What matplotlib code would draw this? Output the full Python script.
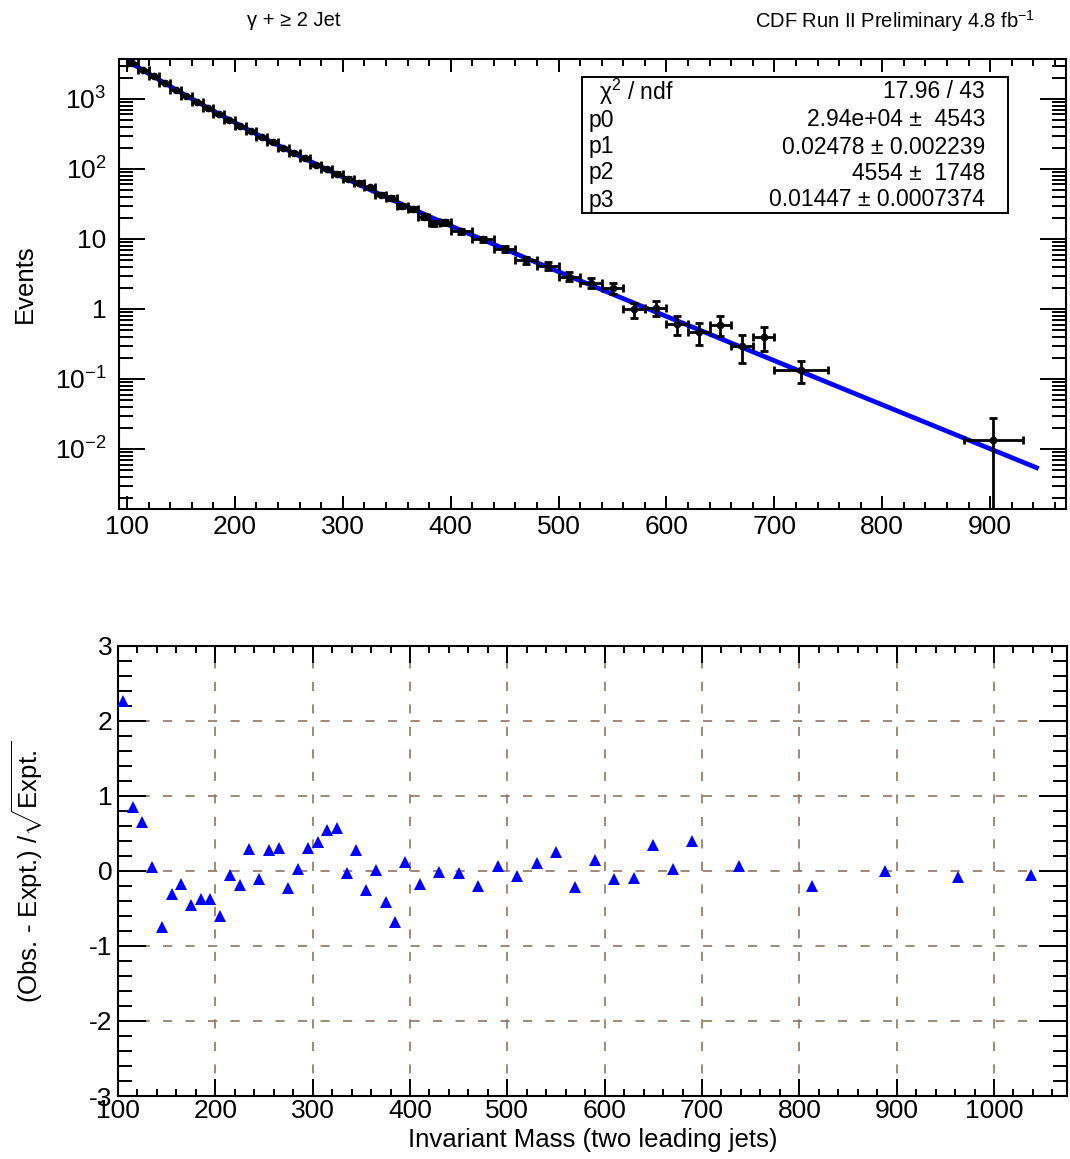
import numpy as np
import matplotlib
matplotlib.use("Agg")
import matplotlib.pyplot as plt
from matplotlib.ticker import FixedLocator, MultipleLocator, NullFormatter
from matplotlib.patches import Rectangle

plt.rcParams['font.family'] = ['Liberation Sans', 'DejaVu Sans']
plt.rcParams['mathtext.fontset'] = 'custom'
plt.rcParams['mathtext.rm'] = 'Liberation Sans'
plt.rcParams['mathtext.it'] = 'Liberation Sans:italic'
plt.rcParams['mathtext.bf'] = 'Liberation Sans:bold'
plt.rcParams['axes.unicode_minus'] = False

# ---- fit result: p0*exp(-p1*m) + p2*exp(-p3*m) ----
p0, p1, p2, p3 = 2.94e4, 0.02478, 4554.0, 0.01447
fit_range = (100.0, 945.0)
stat_labels = ["p0", "p1", "p2", "p3"]
stat_values = ["2.94e+04 \u00b1  4543", "0.02478 \u00b1 0.002239",
               "4554 \u00b1  1748", "0.01447 \u00b1 0.0007374"]
chi2_text = "17.96 / 43"

# ---- dijet invariant mass spectrum ----
mass = [105, 115, 125, 135, 145, 155, 165, 175, 185, 195,
        205, 215, 225, 235, 245, 255, 265, 275, 285, 295,
        305, 315, 325, 335, 345, 355, 365, 375, 385, 395,
        410, 430, 450, 470, 490, 510, 530, 550, 570, 590,
        610, 630, 650, 670, 690, 725, 903]
mass_err = [5] * 30 + [10] * 15 + [25, 27]
events = [3290, 2610, 2100, 1685, 1340, 1105, 905, 735, 605, 497,
          406, 345, 284, 243, 198, 170, 143, 115, 99, 86,
          73, 64, 55, 43, 38.5, 29.8, 26.8, 20.8, 16.8, 17.5,
          12.8, 9.9, 7.2, 5.0, 4.15, 2.9, 2.37, 1.97, 0.99, 1.04,
          0.61, 0.47, 0.60, 0.30, 0.40, 0.134, 0.0134]
events_err = [20, 18, 16, 14, 13, 12, 10.5, 9.5, 8.6, 7.8,
              7.1, 6.5, 5.9, 5.5, 4.9, 4.6, 4.2, 3.8, 3.5, 3.2,
              3.0, 2.8, 2.6, 2.3, 2.2, 1.9, 1.8, 1.6, 1.45, 1.45,
              0.9, 0.78, 0.67, 0.56, 0.51, 0.42, 0.38, 0.35, 0.24, 0.24,
              0.19, 0.16, 0.19, 0.13, 0.15, 0.047, 0.014]

# ---- residuals (Obs - Expt)/sqrt(Expt) ----
res_mass = [105, 115, 125, 135, 145, 155, 165, 175, 185, 195,
            205, 215, 225, 235, 245, 255, 265, 275, 285, 295,
            305, 315, 325, 335, 345, 355, 365, 375, 385, 395,
            410, 430, 450, 470, 490, 510, 530, 550, 570, 590,
            610, 630, 650, 670, 690, 737.5, 812.5, 887.5, 962.5, 1037.5]
residual = [2.26, 0.85, 0.65, 0.05, -0.75, -0.31, -0.18, -0.45, -0.37, -0.37,
            -0.60, -0.06, -0.19, 0.29, -0.11, 0.28, 0.30, -0.23, 0.02, 0.31,
            0.39, 0.54, 0.57, -0.03, 0.28, -0.26, 0.01, -0.42, -0.68, 0.12,
            -0.18, -0.02, -0.03, -0.20, 0.07, -0.07, 0.10, 0.25, -0.21, 0.14,
            -0.11, -0.09, 0.35, 0.02, 0.40, 0.07, -0.20, 0.00, -0.08, -0.05]

top_xticks = [100, 200, 300, 400, 500, 600, 700, 800, 900]
top_yticks = [1e-2, 1e-1, 1, 10, 1e2, 1e3]
top_ytick_labels = [r'$10^{-2}$', r'$10^{-1}$', '1', '10', r'$10^{2}$', r'$10^{3}$']
bot_xticks = [100, 200, 300, 400, 500, 600, 700, 800, 900, 1000]
bot_yticks = [-3, -2, -1, 0, 1, 2, 3]

W, H = 1070, 1159
fig = plt.figure(figsize=(W / 100, H / 100), dpi=100)


def fx(px):
    return px / W


def fy(py):
    return 1 - py / H


TICK_FS = 19
LABEL_FS = 18.5
FRAME_LW = 1.5

# ================= upper pad: spectrum + fit =================
ax1 = fig.add_axes([fx(119), fy(509.3), fx(1066) - fx(119), fy(59) - fy(509.3)])
ax1.set_yscale('log')
ax1.set_xlim(92.6, 970.3)
ax1.set_ylim(0.001376, 3722)

mfit = np.linspace(fit_range[0], fit_range[1], 600)
ax1.plot(mfit, p0 * np.exp(-p1 * mfit) + p2 * np.exp(-p3 * mfit),
         color='#0000ff', lw=3.4, zorder=2, solid_capstyle='butt')
ax1.errorbar(mass, events, xerr=mass_err, yerr=events_err, fmt='o', ms=4.5,
             color='black', ecolor='black', elinewidth=2.0, capsize=2.8,
             capthick=2.0, zorder=3)

ax1.xaxis.set_major_locator(FixedLocator(top_xticks))
ax1.xaxis.set_minor_locator(MultipleLocator(20))
ax1.yaxis.set_major_locator(FixedLocator(top_yticks))
ax1.set_yticklabels(top_ytick_labels)
minor_y = [k * 10.0 ** e for e in range(-3, 4) for k in range(2, 10)]
ax1.yaxis.set_minor_locator(FixedLocator(minor_y))
ax1.yaxis.set_minor_formatter(NullFormatter())

ax1.tick_params(axis='both', which='both', direction='in', top=True, right=True,
                width=1.4, colors='black', labelsize=TICK_FS)
ax1.tick_params(axis='x', which='major', length=9.5, pad=4)
ax1.tick_params(axis='x', which='minor', length=5)
ax1.tick_params(axis='y', which='major', length=19, pad=9)
ax1.tick_params(axis='y', which='minor', length=10)
for s in ax1.spines.values():
    s.set_linewidth(FRAME_LW)

# fit statistics box
box = Rectangle((fx(582), fy(213)), fx(1008) - fx(582), fy(77) - fy(213),
                transform=fig.transFigure, fill=True, facecolor='white',
                edgecolor='black', lw=1.4, zorder=5)
fig.add_artist(box)
STAT_FS = 16.5
rows_y = [92, 120, 147, 173, 200]
fig.text(fx(599), fy(rows_y[0]), '\u03c7$^{2}$ / ndf', fontsize=STAT_FS,
         ha='left', va='center', zorder=6)
fig.text(fx(985), fy(rows_y[0]), chi2_text, fontsize=STAT_FS,
         ha='right', va='center', zorder=6)
for yy, lab, val in zip(rows_y[1:], stat_labels, stat_values):
    fig.text(fx(589), fy(yy), lab, fontsize=STAT_FS, ha='left', va='center', zorder=6)
    fig.text(fx(985), fy(yy), val, fontsize=STAT_FS, ha='right', va='center', zorder=6)

fig.text(fx(25), fy(284), 'Events', fontsize=LABEL_FS, rotation=90,
         ha='center', va='center')

# headers
fig.text(fx(294), fy(21), '\u03b3 + \u2265 2 Jet', fontsize=14.5, ha='center', va='center')
fig.text(fx(1035), fy(21), 'CDF Run II Preliminary 4.8 fb$^{-1}$', fontsize=14.5,
         ha='right', va='center')

# ================= lower pad: residuals =================
ax2 = fig.add_axes([fx(118), fy(1096), fx(1067) - fx(118), fy(645.7) - fy(1096)])
ax2.set_xlim(100, 1075)
ax2.set_ylim(-3, 3)
ax2.plot(res_mass, residual, linestyle='none', marker='^', ms=9.2,
         color='#0000ff', markeredgewidth=0, zorder=3)

ax2.xaxis.set_major_locator(FixedLocator(bot_xticks))
ax2.xaxis.set_minor_locator(MultipleLocator(20))
ax2.yaxis.set_major_locator(FixedLocator(bot_yticks))
ax2.yaxis.set_minor_locator(MultipleLocator(0.2))
ax2.grid(True, which='major', linestyle=(0, (5.5, 8)), color='#8c7566', lw=1.2)
ax2.set_axisbelow(True)

ax2.tick_params(axis='both', which='both', direction='in', top=True, right=True,
                width=1.4, colors='black', labelsize=TICK_FS)
ax2.tick_params(axis='x', which='major', length=12, pad=2)
ax2.tick_params(axis='x', which='minor', length=5)
ax2.tick_params(axis='y', which='major', length=20, pad=4)
ax2.tick_params(axis='y', which='minor', length=10)
for s in ax2.spines.values():
    s.set_linewidth(FRAME_LW)

fig.text(fx(27), fy(872), r'(Obs. - Expt.) /$\sqrt{\mathrm{Expt.}}$',
         fontsize=LABEL_FS, rotation=90, ha='center', va='center')
fig.text(fx(593), fy(1140), 'Invariant Mass (two leading jets)',
         fontsize=LABEL_FS, ha='center', va='center')

fig.savefig('out.png', dpi=100)
